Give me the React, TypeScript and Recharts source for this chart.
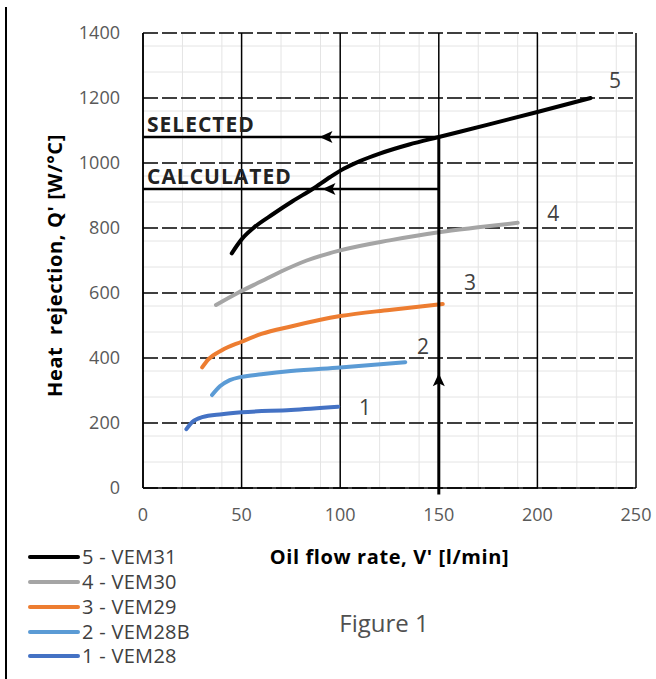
import React from 'react';
import { LineChart, Line, XAxis, YAxis, CartesianGrid, ReferenceLine, ReferenceDot, Label } from 'recharts';

const FONT = '"Open Sans", "DejaVu Sans", sans-serif';

// axes
const xTicks = [0, 50, 100, 150, 200, 250];
const yTicks = [0, 200, 400, 600, 800, 1000, 1200, 1400];
const minorX = Array.from({ length: 24 }, (_, i) => (i + 1) * 10).filter((v) => v % 50 !== 0);
const minorY = Array.from({ length: 34 }, (_, i) => (i + 1) * 40).filter((v) => v % 200 !== 0);

// curves: oil flow rate [l/min] -> heat rejection [W/°C]
const vem28X = [22, 25, 30, 40, 50, 75, 99];
const vem28Y = [181, 203, 218, 227, 233, 240, 250];
const vem28bX = [35, 39, 44, 50, 60, 75, 100, 133];
const vem28bY = [286, 313, 332, 342, 350, 360, 371, 387];
const vem29X = [30, 33, 40, 50, 60, 75, 100, 125, 152];
const vem29Y = [371, 395, 424, 450, 474, 497, 529, 548, 566];
const vem30X = [37, 48, 60, 70, 83, 100, 125, 150, 170, 190];
const vem30Y = [563, 600, 636, 666, 700, 731, 762, 787, 802, 816];
const vem31X = [45, 50, 56, 66, 76, 86, 95, 102, 110, 120, 135, 150, 175, 200, 227];
const vem31Y = [722, 765, 800, 843, 883, 920, 957, 983, 1006, 1029, 1057, 1080, 1118, 1157, 1200];

const seriesNames = ['1 - VEM28', '2 - VEM28B', '3 - VEM29', '4 - VEM30', '5 - VEM31'];
const seriesColors = ['#4472C4', '#5B9BD5', '#ED7D31', '#A5A5A5', '#000000'];
const seriesX = [vem28X, vem28bX, vem29X, vem30X, vem31X];
const seriesY = [vem28Y, vem28bY, vem29Y, vem30Y, vem31Y];

const series = seriesNames.map((name, i) => ({
  name,
  color: seriesColors[i],
  data: seriesX[i].map((x, j) => ({ x, y: seriesY[i][j] })),
}));

// curve number labels
const curveLabels = ['1', '2', '3', '4', '5'];
const curveLabelX = [112.6, 142, 165.8, 208, 239.4];
const curveLabelY = [250, 436, 635, 845, 1255];

// selection arrows
const flowRate = 150;
const selectedQ = 1080;
const calculatedQ = 920;
const selectedArrowX = 89.5;
const calculatedArrowX = 91;
const upArrowY = 353;

const leftArrow = (props: any) => {
  const { cx, cy } = props;
  return <path d={`M${cx},${cy} l13,-6 l-3,6 l3,6 z`} fill="#000" />;
};

const upArrow = (props: any) => {
  const { cx, cy } = props;
  return <path d={`M${cx},${cy} l-6,13 l6,-3 l6,3 z`} fill="#000" />;
};

const textShape = (value: string, bold: boolean, size: number, anchor: 'start' | 'middle') => (props: any) => {
  const { cx, cy } = props;
  return (
    <text
      x={anchor === 'start' ? cx + 4 : cx}
      y={anchor === 'start' ? cy - 5 : cy}
      textAnchor={anchor}
      dominantBaseline={anchor === 'start' ? 'auto' : 'central'}
      fontFamily={FONT}
      fontSize={size}
      fontWeight={bold ? 700 : 400}
      letterSpacing={bold ? 1 : 0}
      fill={bold ? '#222' : '#404040'}
    >
      {value}
    </text>
  );
};

const yTitle = (props: any) => {
  const { viewBox } = props;
  const cx = viewBox.x + 21.5;
  const cy = viewBox.y + viewBox.height / 2 + 5;
  return (
    <text
      x={cx}
      y={cy}
      transform={`rotate(-90 ${cx} ${cy})`}
      textAnchor="middle"
      dominantBaseline="central"
      fontFamily={FONT}
      fontSize={20}
      fontWeight={700}
      letterSpacing={0.6}
      fill="#000"
    >
      {'Heat\u00a0 rejection, Q\' [W/°C]'}
    </text>
  );
};

export default function App() {
  return (
    <div style={{ position: 'absolute', left: 0, top: 0, width: 656, height: 679, background: '#fff', fontFamily: FONT }}>
      <div style={{ position: 'absolute', left: 5, top: 7, width: 2, height: 672, background: '#000' }} />
      <LineChart width={656} height={679} margin={{ top: 33, right: 20, left: 33, bottom: 161 }}>
        <CartesianGrid stroke="#E4E4E4" strokeWidth={1} verticalValues={minorX} horizontalValues={minorY} />
        <CartesianGrid horizontal={false} stroke="#000" strokeWidth={1.5} />
        <CartesianGrid vertical={false} stroke="#000" strokeWidth={1.5} strokeDasharray="15 4" />
        <XAxis
          dataKey="x"
          type="number"
          domain={[0, 250]}
          ticks={xTicks}
          allowDataOverflow
          height={30}
          tickSize={0}
          tickMargin={20}
          tickLine={false}
          axisLine={{ stroke: '#000', strokeWidth: 1.5 }}
          tick={{ fill: '#595959', fontSize: 18, fontFamily: FONT }}
        >
          <Label
            value="Oil flow rate, V' [l/min]"
            position="bottom"
            offset={32}
            style={{ fontFamily: FONT, fontSize: 20, fontWeight: 700, letterSpacing: 0.6, fill: '#000' }}
          />
        </XAxis>
        <YAxis
          type="number"
          domain={[0, 1400]}
          ticks={yTicks}
          allowDataOverflow
          width={110}
          tickSize={0}
          tickMargin={23}
          tickLine={false}
          axisLine={{ stroke: '#000', strokeWidth: 1.5 }}
          tick={{ fill: '#595959', fontSize: 18, fontFamily: FONT }}
        >
          <Label content={yTitle} />
        </YAxis>

        {series.map((s) => (
          <Line
            key={s.name}
            data={s.data}
            dataKey="y"
            name={s.name}
            type="monotone"
            stroke={s.color}
            strokeWidth={4}
            strokeLinecap="round"
            dot={false}
            activeDot={false}
            isAnimationActive={false}
          />
        ))}

        <ReferenceLine segment={[{ x: flowRate, y: selectedQ }, { x: 0, y: selectedQ }]} stroke="#000" strokeWidth={2.5} />
        <ReferenceLine segment={[{ x: flowRate, y: calculatedQ }, { x: 0, y: calculatedQ }]} stroke="#000" strokeWidth={2.5} />
        <ReferenceLine
          segment={[{ x: flowRate, y: -20 }, { x: flowRate, y: selectedQ }]}
          stroke="#000"
          strokeWidth={3}
          ifOverflow="visible"
        />
        <ReferenceDot x={selectedArrowX} y={selectedQ} shape={leftArrow} />
        <ReferenceDot x={calculatedArrowX} y={calculatedQ} shape={leftArrow} />
        <ReferenceDot x={flowRate} y={upArrowY} shape={upArrow} />
        <ReferenceDot x={0} y={selectedQ} shape={textShape('SELECTED', true, 21, 'start')} />
        <ReferenceDot x={0} y={calculatedQ} shape={textShape('CALCULATED', true, 21, 'start')} />

        {curveLabels.map((t, i) => (
          <ReferenceDot key={t} x={curveLabelX[i]} y={curveLabelY[i]} shape={textShape(t, false, 21, 'middle')} />
        ))}
      </LineChart>

      <div style={{ position: 'absolute', left: 28, top: 545 }}>
        {[...series].reverse().map((s) => (
          <div key={s.name} style={{ display: 'flex', alignItems: 'center', height: 24.75 }}>
            <span style={{ display: 'inline-block', width: 52, height: 4, borderRadius: 2, background: s.color }} />
            <span style={{ marginLeft: 2, fontSize: 20, letterSpacing: 0.3, color: '#404040', lineHeight: '20px', whiteSpace: 'nowrap' }}>
              {s.name}
            </span>
          </div>
        ))}
      </div>

      <div
        style={{
          position: 'absolute',
          left: 284,
          width: 200,
          top: 606,
          textAlign: 'center',
          fontSize: 24,
          color: '#505050',
          lineHeight: '34px',
        }}
      >
        Figure 1
      </div>
    </div>
  );
}
